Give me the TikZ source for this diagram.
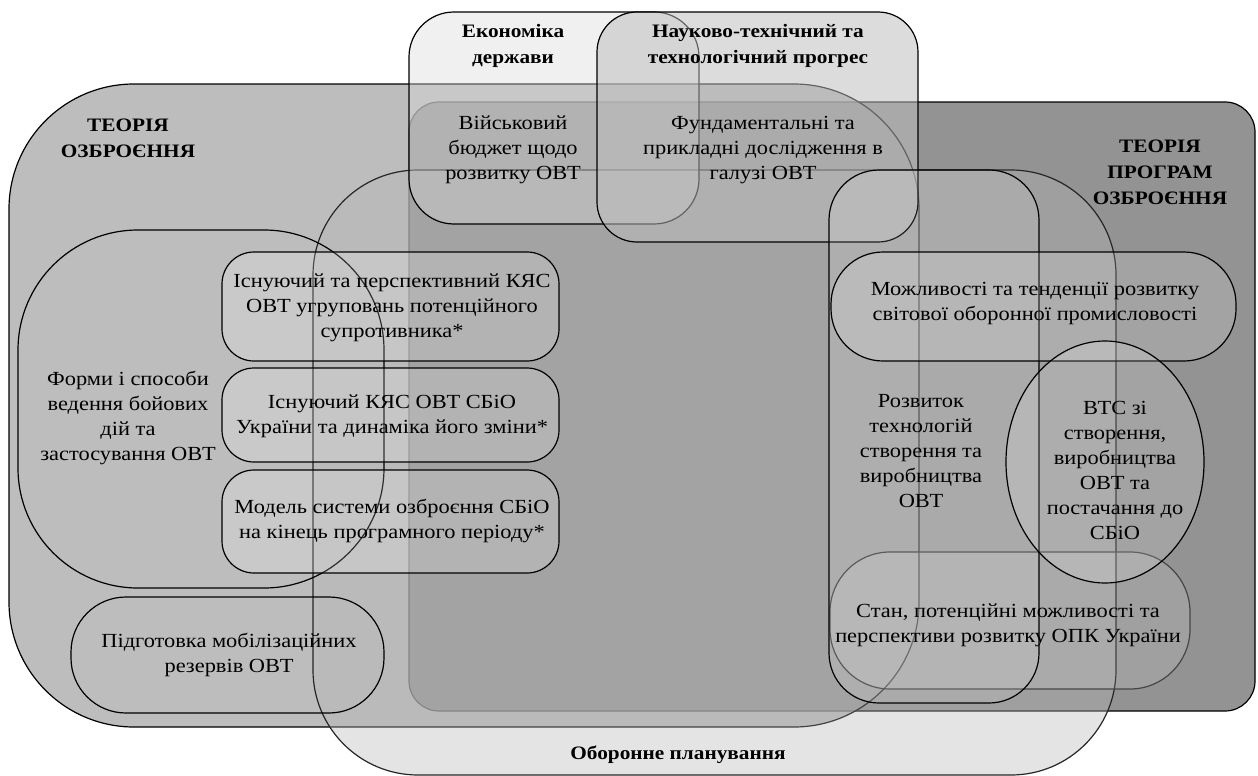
\documentclass[tikz,border=0pt]{standalone}
\usepackage{fontspec}
\setmainfont[FakeStretch=1.12]{Liberation Serif}
\definecolor{cRight}{RGB}{147,147,147}
\definecolor{cLeft}{RGB}{157,157,157}
\definecolor{cPlan}{RGB}{182,182,182}
\definecolor{cEcon}{RGB}{217,217,217}
\definecolor{cSci}{RGB}{189,189,189}
\definecolor{cStan}{RGB}{70,70,70}
\begin{document}
\begin{tikzpicture}[x=1pt,y=-1pt,
  shp/.style={line width=1.2pt, draw=black},
  inner/.style={shp, fill=white, fill opacity=0.18},
  txt/.style={align=center, inner sep=0pt, font=\fontsize{20}{25}\selectfont},
  btxt/.style={align=center, inner sep=0pt, font=\fontsize{19}{26}\selectfont\bfseries}]
\useasboundingbox (0,0) rectangle (1258,776);
% big boxes
\path[shp, fill=cRight, rounded corners=30pt] (409,102) rectangle (1255,711);
\path[shp, fill=cLeft, fill opacity=0.67, rounded corners=125pt] (9,84) rectangle (919,727);
\path[shp, draw=black!85, fill=cPlan, fill opacity=0.37, rounded corners=105pt] (313,170) rectangle (1116,775);
% left inner boxes
\path[shp, rounded corners=120pt] (18,230) rectangle (384,588);
\path[shp, rounded corners=55pt] (71,597) rectangle (384,713);
\path[inner, rounded corners=32pt] (222,252) rectangle (559,361);
\path[inner, rounded corners=32pt] (222,368) rectangle (559,462);
\path[inner, rounded corners=32pt] (222,470) rectangle (559,573);
% top boxes
\path[shp, fill=cEcon, fill opacity=0.394, rounded corners=45pt] (409,12) rectangle (699,224);
\path[shp, fill=cSci, fill opacity=0.527, rounded corners=40pt] (597,12) rectangle (918,242);
% right inner boxes
\path[shp, draw=cStan, fill=white, fill opacity=0.12, rounded corners=60pt] (830,552) rectangle (1190,689);
\path[shp, fill=white, fill opacity=0.12, rounded corners=50pt] (829,170) rectangle (1039,703);
\path[shp, fill=white, fill opacity=0.15, rounded corners=52pt] (831,252) rectangle (1236,361);
\path[shp, fill=white, fill opacity=0.15] (1105,462) ellipse [x radius=99, y radius=121];
% labels
\node[btxt] (tOzbr) at (128,138) {ТЕОРІЯ\\ОЗБРОЄННЯ};
\node[btxt] (tEcon) at (513,46) {Економіка\\держави};
\node[btxt] (tSci) at (758,46) {Науково-технічний та\\технологічний прогрес};
\node[txt] (tBudget) at (513,150) {Військовий\\бюджет щодо\\розвитку ОВТ};
\node[txt] (tFund) at (763,150) {Фундаментальні та\\прикладні дослідження в\\галузі ОВТ};
\node[btxt] (tProg) at (1160,172) {ТЕОРІЯ\\ПРОГРАМ\\ОЗБРОЄННЯ};
\node[txt] (tKyas1) at (392,308) {Існуючий та перспективний КЯС\\ОВТ угруповань потенційного\\супротивника*};
\node[txt] (tKyas2) at (392,416) {Існуючий КЯС ОВТ СБіО\\України та динаміка його зміни*};
\node[txt] (tModel) at (392,521) {Модель системи озброєння СБіО\\на кінець програмного періоду*};
\node[txt] (tForms) at (128,418) {Форми і способи\\ведення бойових\\дій та\\застосування ОВТ};
\node[txt] (tMob) at (229,655) {Підготовка мобілізаційних\\резервів ОВТ};
\node[txt] (tWorld) at (1035,304) {Можливості та тенденції розвитку\\світової оборонної промисловості};
\node[txt] (tTech) at (921,451) {Розвиток\\технологій\\створення та\\виробництва\\ОВТ};
\node[txt] (tVTS) at (1115,470) {ВТС зі\\створення,\\виробництва\\ОВТ та\\постачання до\\СБіО};
\node[txt] (tStan) at (1008,625) {Стан, потенційні можливості та\\перспективи розвитку ОПК України};
\node[btxt] (tPlan) at (678,755) {Оборонне планування};
\end{tikzpicture}
\end{document}
